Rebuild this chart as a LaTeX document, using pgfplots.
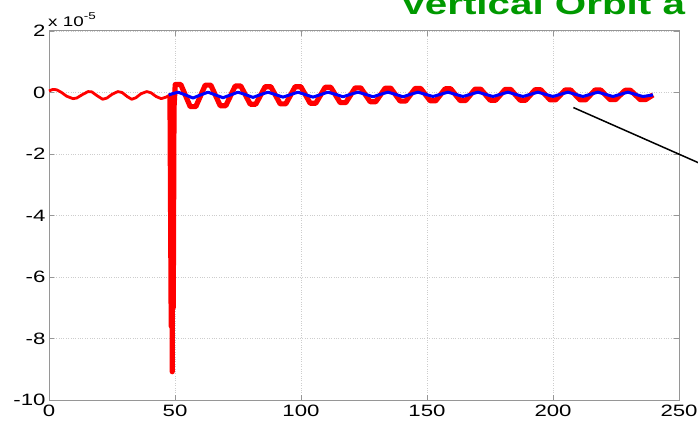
\documentclass[border=0pt]{standalone}
\usepackage{fontspec}
\setmainfont{Liberation Sans}[FakeStretch=1.35]
\usepackage{pgfplots}
\pgfplotsset{compat=1.18}
\definecolor{titlegreen}{RGB}{0,153,0}
\definecolor{framegray}{RGB}{150,150,150}
\definecolor{gridgray}{RGB}{205,205,205}
\definecolor{mred}{RGB}{255,0,0}
\definecolor{mblue}{RGB}{0,0,255}

\begin{document}
\begin{tikzpicture}[x=1bp,y=1bp]
\path[use as bounding box] (0,0) rectangle (698,422);

\begin{axis}[
  at={(49bp,22bp)}, anchor=south west,
  scale only axis, width=630bp, height=369bp,
  xmin=0, xmax=250, ymin=-10, ymax=2,
  xtick={0,50,...,250}, xticklabels={0,50,100,150,200,250},
  ytick={-10,-8,...,2}, yticklabels={-10,-8,-6,-4,-2,0,2},
  tick align=inside, major tick length=5bp,
  axis line style={framegray, line width=1bp},
  every tick/.style={framegray, line width=0.8bp},
  grid=major, major grid style={gridgray, dotted, line width=0.8bp},
  ticklabel style={font=\fontsize{16.5}{18}\selectfont},
  xticklabel style={yshift=-1bp},
  clip=false,
]

% orbit before the kick (turns 0-48)
\addplot[mred, line width=2.8bp, line join=round] coordinates {
 (0,0.05) (1.5,0.1) (3,0.09) (5,0.0) (7,-0.12) (9.5,-0.2) (11,-0.18) (13,-0.08)
 (15.5,0.03) (17,0.02) (19,-0.1) (21.3,-0.22) (23,-0.18) (25,-0.06) (27.3,0.03)
 (29,0.0) (31,-0.13) (32.8,-0.22) (34.5,-0.17) (36.5,-0.04) (38.8,0.03)
 (40.5,-0.01) (42.5,-0.13) (44.5,-0.2) (46.5,-0.15) (48,-0.08)
};

% kick and oscillation afterwards
\addplot[mred, line width=5.2bp, line join=round] coordinates {
 (48,-0.08) (48.3,-4.6) (48.5,-7.6) (48.7,-1.0) (48.9,-9.08) (49.1,-3.0)
 (49.3,-7.0) (49.6,-0.5) (50.1,0.26) (52.3,0.26) (56.05,-0.46) (58.25,-0.46)
 (62.0,0.24) (64.2,0.24) (67.95,-0.43) (70.15,-0.43)
 (73.9,0.21) (76.1,0.21) (79.85,-0.38) (82.05,-0.38)
 (85.8,0.19) (88.0,0.19) (91.75,-0.37) (93.95,-0.37)
 (97.7,0.19) (99.9,0.19) (103.65,-0.35) (105.85,-0.35)
 (109.6,0.17) (111.8,0.17) (115.55,-0.33) (117.75,-0.33)
 (121.5,0.15) (123.7,0.15) (127.45,-0.30) (129.65,-0.30)
 (133.4,0.14) (135.6,0.14) (139.35,-0.28) (141.55,-0.28)
 (145.3,0.13) (147.5,0.13) (151.25,-0.27) (153.45,-0.27)
 (157.2,0.12) (159.4,0.12) (163.15,-0.26) (165.35,-0.26)
 (169.1,0.11) (171.3,0.11) (175.05,-0.25) (177.25,-0.25)
 (181.0,0.10) (183.2,0.10) (186.95,-0.25) (189.15,-0.25)
 (192.9,0.09) (195.1,0.09) (198.85,-0.24) (201.05,-0.24)
 (204.8,0.08) (207.0,0.08) (210.75,-0.24) (212.95,-0.24)
 (216.7,0.08) (218.9,0.08) (222.65,-0.23) (224.85,-0.23)
 (228.6,0.07) (230.8,0.07) (234.55,-0.23) (236.75,-0.23)
 (239.7,-0.08)
};

% corrected orbit
\addplot[mblue, line width=3bp, line join=round] coordinates {
 (47.5,-0.08) (49,-0.04)
 (51.2,0.01) (54.2,-0.08) (57.15,-0.18) (60.1,-0.08)
 (63.1,0.01) (66.1,-0.08) (69.05,-0.17) (72.0,-0.08)
 (75.0,0.01) (78.0,-0.07) (80.95,-0.16) (83.9,-0.07)
 (86.9,0.01) (89.9,-0.07) (92.85,-0.15) (95.8,-0.07)
 (98.8,0.01) (101.8,-0.07) (104.75,-0.15) (107.7,-0.07)
 (110.7,0.01) (113.7,-0.06) (116.65,-0.14) (119.6,-0.06)
 (122.6,0.01) (125.6,-0.06) (128.55,-0.14) (131.5,-0.06)
 (134.5,0.01) (137.5,-0.06) (140.45,-0.14) (143.4,-0.06)
 (146.4,0.01) (149.4,-0.06) (152.35,-0.13) (155.3,-0.06)
 (158.3,0.01) (161.3,-0.06) (164.25,-0.13) (167.2,-0.06)
 (170.2,0.01) (173.2,-0.06) (176.15,-0.13) (179.1,-0.06)
 (182.1,0.01) (185.1,-0.06) (188.05,-0.13) (191.0,-0.06)
 (194.0,0.01) (197.0,-0.06) (199.95,-0.13) (202.9,-0.06)
 (205.9,0.01) (208.9,-0.06) (211.85,-0.13) (214.8,-0.06)
 (217.8,0.01) (220.8,-0.06) (223.75,-0.13) (226.7,-0.06)
 (229.7,0.01) (232.7,-0.06) (235.65,-0.13) (239.7,-0.08)
};

% pointer line
\draw[black, line width=1.5bp] (axis cs:208.1,-0.49) -- (axis cs:275,-2.91);
\end{axis}

% scale factor of the y axis
\node[anchor=base west, inner sep=0pt, font=\fontsize{14}{16}\selectfont]
  at (48bp,395bp) {x 10\raisebox{7bp}{\fontsize{10}{11}\selectfont -5}};

% title
\node[anchor=base west, inner sep=0pt, text=titlegreen,
      font=\fontsize{30}{34}\selectfont\bfseries]
  at (400bp,407bp) {Vertical Orbit a};
\end{tikzpicture}
\end{document}
